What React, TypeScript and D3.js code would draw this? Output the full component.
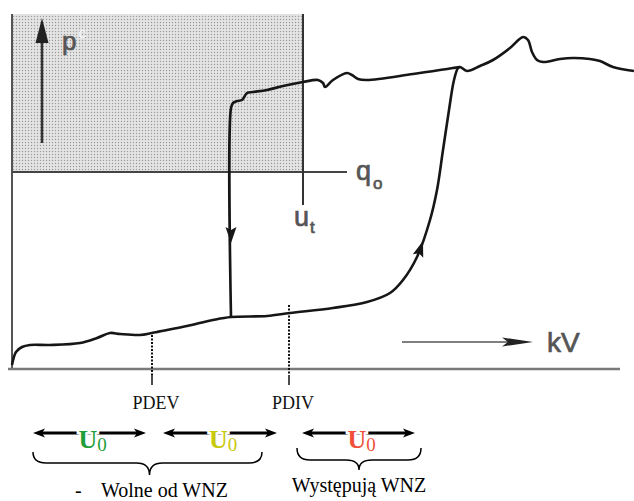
import React, { useEffect, useRef } from "react"
import * as d3 from "d3"

// hysteresis curve, x = voltage (arbitrary kV units), y = p^C level
const risingBranch: [number, number][] = [
  [0, 0.2], [0.4, 1.5], [1.0, 2.0], [1.8, 2.2], [3.8, 2.2], [6.8, 2.4], [8.5, 2.9],
  [9.8, 3.4], [10.8, 3.3], [12.8, 3.2], [14.0, 3.4], [15.5, 3.7], [17.5, 4.1],
  [20.1, 4.7], [21.9, 5.0], [25.5, 5.1], [27.8, 5.4], [32.1, 5.9], [35.5, 6.5],
  [37.8, 7.4], [39.1, 8.7], [40.5, 11.0], [41.8, 14.7], [42.5, 17.7], [43.1, 21.7],
  [43.7, 25.7], [44.2, 28.7], [44.6, 29.9], [44.8, 30.0]
]
const topTail: [number, number][] = [
  [44.8, 30.0], [45.5, 29.6], [46.8, 30.1], [48.1, 30.7], [49.8, 31.9], [51.1, 33.0],
  [51.6, 32.7], [52.0, 31.5], [52.5, 30.7], [53.1, 30.5], [54.8, 30.8], [56.1, 30.9],
  [57.8, 30.8], [58.8, 30.6], [60.1, 30.0], [62.2, 29.6]
]
const returnBranch: [number, number][] = [
  [21.9, 5.0], [21.9, 25.9], [22.1, 26.4], [22.5, 26.6], [23.0, 26.7], [23.5, 27.4],
  [24.1, 27.5], [25.5, 27.7], [27.1, 28.1], [29.1, 28.5], [30.6, 28.7], [31.1, 28.4],
  [31.3, 28.0], [32.1, 28.7], [33.5, 29.4], [34.0, 29.2], [34.6, 28.8], [35.5, 28.7],
  [40.1, 29.3], [44.1, 29.9], [44.8, 30.0]
]

// direction arrows on the curve: [from, tip]
const curveArrows: [number, number][][] = [
  [[21.9, 14.0], [21.9, 12.4]],
  [[40.6, 11.1], [41.1, 12.6]]
]

const qLevel = 19.5
const utVoltage = 29.1
const thresholdNames = ["PDEV", "PDIV"]
const thresholdKv = [14.0, 27.7]
const thresholdTop = [3.2, 6.2]

const u0Ranges = [[2.1, 13.4], [15.1, 26.5], [29.0, 40.3]]
const u0Colors = ["#1f9e3a", "#c8c80c", "#f0503a"]
const braceRanges = [[2.1, 25.0], [28.5, 40.9]]
const braceLabels = ["Wolne od WNZ", "Występują WNZ"]

const App = () => {
  const ref = useRef<SVGSVGElement>(null)
  const width = 634
  const height = 501

  useEffect(() => {
    draw()
  }, [])

  const draw = () => {
    const x = d3.scaleLinear().domain([0, 62.2]).range([12, 634])
    const y = d3.scaleLinear().domain([0, 35.3]).range([367, 14])
    const svg = d3.select(ref.current)
    svg.selectAll("*").remove()

    const defs = svg.append("defs")
    const pat = defs.append("pattern").attr("id", "dots")
      .attr("patternUnits", "userSpaceOnUse").attr("width", 3).attr("height", 3)
    pat.append("rect").attr("width", 3).attr("height", 3).attr("fill", "#e4e4e4")
    pat.append("circle").attr("cx", 1.5).attr("cy", 1.5).attr("r", 0.7).attr("fill", "#9a9a9a")

    // shaded region
    svg.append("rect")
      .attr("x", x(0)).attr("y", y(35.3))
      .attr("width", x(utVoltage) - x(0)).attr("height", y(qLevel) - y(35.3))
      .attr("fill", "url(#dots)")

    // axes
    svg.append("line").attr("x1", x(0)).attr("x2", x(0)).attr("y1", y(35.3)).attr("y2", y(-0.2))
      .attr("stroke", "#555").attr("stroke-width", 2)
    svg.append("line").attr("x1", x(-0.4)).attr("x2", x(60.8)).attr("y1", y(-0.2)).attr("y2", y(-0.2))
      .attr("stroke", "#7a7a7a").attr("stroke-width", 2.5)

    // q0 and u_t lines
    svg.append("line").attr("x1", x(0)).attr("x2", x(33.5)).attr("y1", y(qLevel)).attr("y2", y(qLevel))
      .attr("stroke", "#444").attr("stroke-width", 2)
    svg.append("line").attr("x1", x(utVoltage)).attr("x2", x(utVoltage)).attr("y1", y(35.3)).attr("y2", y(16.2))
      .attr("stroke", "#333").attr("stroke-width", 2)

    const sans = "'Liberation Sans', Arial, sans-serif"
    const serif = "'Liberation Serif', 'Times New Roman', serif"
    const labelGray = "#555"

    const label = (sx: number, sy: number, size: number) =>
      svg.append("text").attr("x", sx).attr("y", sy).attr("font-family", sans)
        .attr("font-size", size).attr("fill", labelGray)
        .attr("stroke", labelGray).attr("stroke-width", 0.7)

    // p^C arrow
    svg.append("line").attr("x1", x(3.0)).attr("x2", x(3.0)).attr("y1", y(22.4)).attr("y2", y(33))
      .attr("stroke", "#333").attr("stroke-width", 2.5)
    svg.append("path")
      .attr("d", `M${x(3.0)},${y(34.9)} L${x(3.0) + 6.5},${y(32.4)} L${x(3.0) - 6.5},${y(32.4)} Z`)
      .attr("fill", "#222")
    const pt = label(62, 50, 26)
    pt.append("tspan").text("p")
    pt.append("tspan").attr("dx", 2).attr("dy", -12).attr("font-size", 15)
      .attr("fill", "#f8f8f8").attr("stroke", "none").text("c")

    const qt = label(356, 180, 27)
    qt.append("tspan").text("q")
    qt.append("tspan").attr("dx", 2).attr("dy", 9).attr("font-size", 17).text("o")

    const ut = label(294, 226, 27)
    ut.append("tspan").text("u")
    ut.append("tspan").attr("dx", 1).attr("dy", 7).attr("font-size", 17).text("t")

    // kV arrow
    svg.append("line").attr("x1", x(39.0)).attr("x2", x(50)).attr("y1", y(2.5)).attr("y2", y(2.5))
      .attr("stroke", "#555").attr("stroke-width", 1.5)
    svg.append("path")
      .attr("d", `M${x(52.1)},${y(2.5)} L${x(49.0)},${y(2.5) - 4.5} L${x(49.6)},${y(2.5)} L${x(49.0)},${y(2.5) + 4.5} Z`)
      .attr("fill", "#222")
    label(547, 352, 28).text("kV")

    // curves
    const line = d3.line<[number, number]>()
      .x(d => x(d[0])).y(d => y(d[1]))
      .curve(d3.curveCatmullRom.alpha(0.5))
    svg.append("path").attr("d", line(risingBranch.concat(topTail.slice(1))))
      .attr("fill", "none").attr("stroke", "#161616").attr("stroke-width", 2.6).attr("stroke-linejoin", "round")
    svg.append("path").attr("d", line(returnBranch))
      .attr("fill", "none").attr("stroke", "#161616").attr("stroke-width", 2.6).attr("stroke-linejoin", "round")

    curveArrows.forEach(([from, tip]) => {
      const fx = x(from[0]), fy = y(from[1]), tx = x(tip[0]), ty = y(tip[1])
      const len = Math.hypot(tx - fx, ty - fy)
      const ux = (tx - fx) / len, uy = (ty - fy) / len
      const hw = 5.5
      svg.append("path")
        .attr("d", `M${tx},${ty} L${fx - uy * hw},${fy + ux * hw} L${fx + ux * 3},${fy + uy * 3} L${fx + uy * hw},${fy - ux * hw} Z`)
        .attr("fill", "#161616")
    })

    // PDEV / PDIV markers
    thresholdKv.forEach((kv, i) => {
      svg.append("line").attr("x1", x(kv)).attr("x2", x(kv)).attr("y1", y(thresholdTop[i])).attr("y2", y(-0.8))
        .attr("stroke", "#111").attr("stroke-width", 2).attr("stroke-dasharray", "2,1.5")
      svg.append("line").attr("x1", x(kv)).attr("x2", x(kv)).attr("y1", y(-0.8)).attr("y2", y(-1.8))
        .attr("stroke", "#111").attr("stroke-width", 1.5)
      svg.append("text").attr("x", x(kv) + 4).attr("y", 409).attr("text-anchor", "middle")
        .attr("font-family", serif).attr("font-size", 18).attr("fill", "#111").text(thresholdNames[i])
    })

    // U0 double arrows
    const arrowY = 433
    u0Ranges.forEach(([a, b], i) => {
      const x1 = x(a), x2 = x(b)
      svg.append("line").attr("x1", x1 + 6).attr("x2", x2 - 6).attr("y1", arrowY).attr("y2", arrowY)
        .attr("stroke", "#000").attr("stroke-width", 3)
      svg.append("path")
        .attr("d", `M${x1},${arrowY} L${x1 + 12},${arrowY - 4.5} L${x1 + 9},${arrowY} L${x1 + 12},${arrowY + 4.5} Z`)
        .attr("fill", "#000")
      svg.append("path")
        .attr("d", `M${x2},${arrowY} L${x2 - 12},${arrowY - 4.5} L${x2 - 9},${arrowY} L${x2 - 12},${arrowY + 4.5} Z`)
        .attr("fill", "#000")
      const cx = (x1 + x2) / 2
      const t = svg.append("text").attr("x", cx - 11).attr("y", 448).attr("font-family", serif)
        .attr("fill", u0Colors[i])
      t.append("tspan").attr("font-size", 26).attr("font-weight", "bold")
        .attr("stroke", "#fff").attr("stroke-width", 5).attr("paint-order", "stroke").text("U")
      t.append("tspan").attr("font-size", 19).attr("dy", 3).text("0")
    })

    // braces
    const braceTop = [452, 448]
    const braceMid = [463, 460]
    const braceTip = [475, 470]
    braceRanges.forEach(([a, b], i) => {
      const x1 = x(a), x2 = x(b), xm = (x1 + x2) / 2 + (i === 0 ? 2 : 0)
      const t = braceTop[i], m = braceMid[i], p = braceTip[i], r = 13
      const d = `M${x1},${t} Q${x1},${m} ${x1 + r},${m} L${xm - r},${m} Q${xm},${m} ${xm},${p} ` +
        `Q${xm},${m} ${xm + r},${m} L${x2 - r},${m} Q${x2},${m} ${x2},${t}`
      svg.append("path").attr("d", d).attr("fill", "none").attr("stroke", "#000").attr("stroke-width", 1.5)
    })

    svg.append("text").attr("x", 75).attr("y", 497).attr("font-family", serif).attr("font-size", 20)
      .attr("fill", "#000").text("-")
    svg.append("text").attr("x", 101).attr("y", 497).attr("font-family", serif).attr("font-size", 20)
      .attr("fill", "#000").text(braceLabels[0])
    svg.append("text").attr("x", 359).attr("y", 492).attr("text-anchor", "middle").attr("font-family", serif)
      .attr("font-size", 20).attr("fill", "#000").text(braceLabels[1])
  }

  return (
    <div style={{ position: "absolute", left: 0, top: 0 }}>
      <svg ref={ref} width={width} height={height} style={{ display: "block", background: "#fff" }} />
    </div>
  )
}

export default App
